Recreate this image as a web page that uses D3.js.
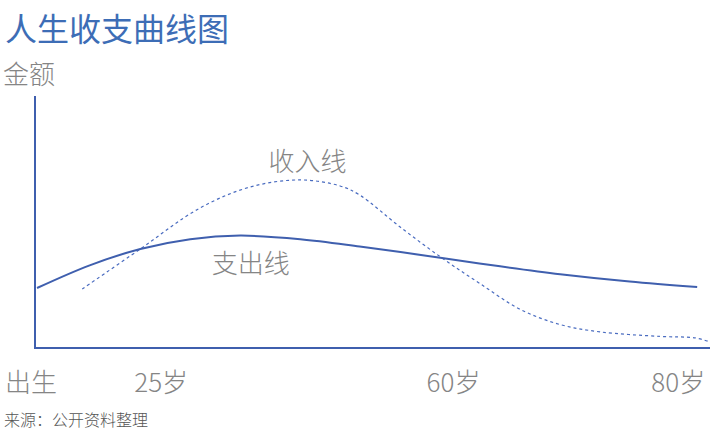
<!DOCTYPE html>
<html><head><meta charset="utf-8">
<script src="https://cdn.jsdelivr.net/npm/d3@7"></script>
<style>
html,body{margin:0;padding:0;background:#fff;}
svg{display:block;font-family:"Noto Sans CJK SC","Noto Sans",sans-serif;}
</style></head>
<body><svg id="c" width="720" height="438"></svg>
<script>
// ---- data (x: life-progress units 0..100, y: relative amount 0..100) ----
const title = "人生收支曲线图";
const yLabel = "金额";
const source = "来源：公开资料整理";
const expenseName = "支出线";
const incomeName = "收入线";
const expenseX = [0.3, 8.1, 15.6, 23, 30.4, 39.3, 48.1, 60.3, 68.9, 77.8, 88.1, 98.1];
const expenseY = [23.8, 32.8, 39.3, 43.2, 44.6, 43.2, 40.3, 35.7, 32.4, 29.3, 26.4, 24.2];
const incomeX = [7, 15.6, 24.4, 31.9, 39.3, 45.2, 48.1, 54.1, 60.3, 65.9, 71.9, 77.8, 83.7, 92.6, 97.8, 100];
const incomeY = [23.4, 39.3, 55.5, 63.9, 66.7, 64.3, 60.7, 48.0, 35.7, 25.6, 15.3, 9.3, 6.4, 4.6, 4.0, 2.4];
const tickLabels = ["出生", "25岁", "60岁", "80岁"];
const tickAt = [-0.6, 18.7, 62, 95.3];

const svg = d3.select("#c");
const x = d3.scaleLinear().domain([0, 100]).range([35, 710]);
const y = d3.scaleLinear().domain([0, 100]).range([348, 96]);
const blue = "#3f5fae";
const gray = "#858585";

svg.append("text").attr("x", 5).attr("y", 41).attr("fill", "#3d6db6")
  .attr("font-size", 32).attr("font-weight", 400).text(title);
svg.append("text").attr("x", 3).attr("y", 84).attr("fill", gray)
  .attr("font-size", 26).attr("font-weight", 300).text(yLabel);

// axes
svg.append("line").attr("x1", x(0)).attr("x2", x(0)).attr("y1", y(100)).attr("y2", y(0))
  .attr("stroke", blue).attr("stroke-width", 2);
svg.append("line").attr("x1", x(0) - 1).attr("x2", x(100)).attr("y1", y(0)).attr("y2", y(0))
  .attr("stroke", blue).attr("stroke-width", 2);

const line = d3.line().x(d => x(d[0])).y(d => y(d[1])).curve(d3.curveCatmullRom.alpha(0.5));
svg.append("path").datum(incomeX.map((v, i) => [v, incomeY[i]]))
  .attr("d", line).attr("fill", "none").attr("stroke", "#4a6cc0")
  .attr("stroke-width", 1.2).attr("stroke-dasharray", "3,3");
svg.append("path").datum(expenseX.map((v, i) => [v, expenseY[i]]))
  .attr("d", line).attr("fill", "none").attr("stroke", blue)
  .attr("stroke-width", 2);

// line labels
svg.append("text").attr("x", x(34.6)).attr("y", 171).attr("fill", gray)
  .attr("font-size", 26).attr("font-weight", 300).text(incomeName);
svg.append("text").attr("x", x(26.2)).attr("y", 273).attr("fill", gray)
  .attr("font-size", 26).attr("font-weight", 300).text(expenseName);

// tick labels
svg.selectAll("text.tick").data(tickLabels).join("text").attr("class", "tick")
  .attr("x", (d, i) => x(tickAt[i])).attr("y", 392).attr("text-anchor", "middle")
  .attr("fill", gray).attr("font-size", 26).attr("font-weight", 300).text(d => d);

svg.append("text").attr("x", 4).attr("y", 426).attr("fill", "#555")
  .attr("font-size", 16).attr("font-weight", 300).text(source);
</script></body></html>
